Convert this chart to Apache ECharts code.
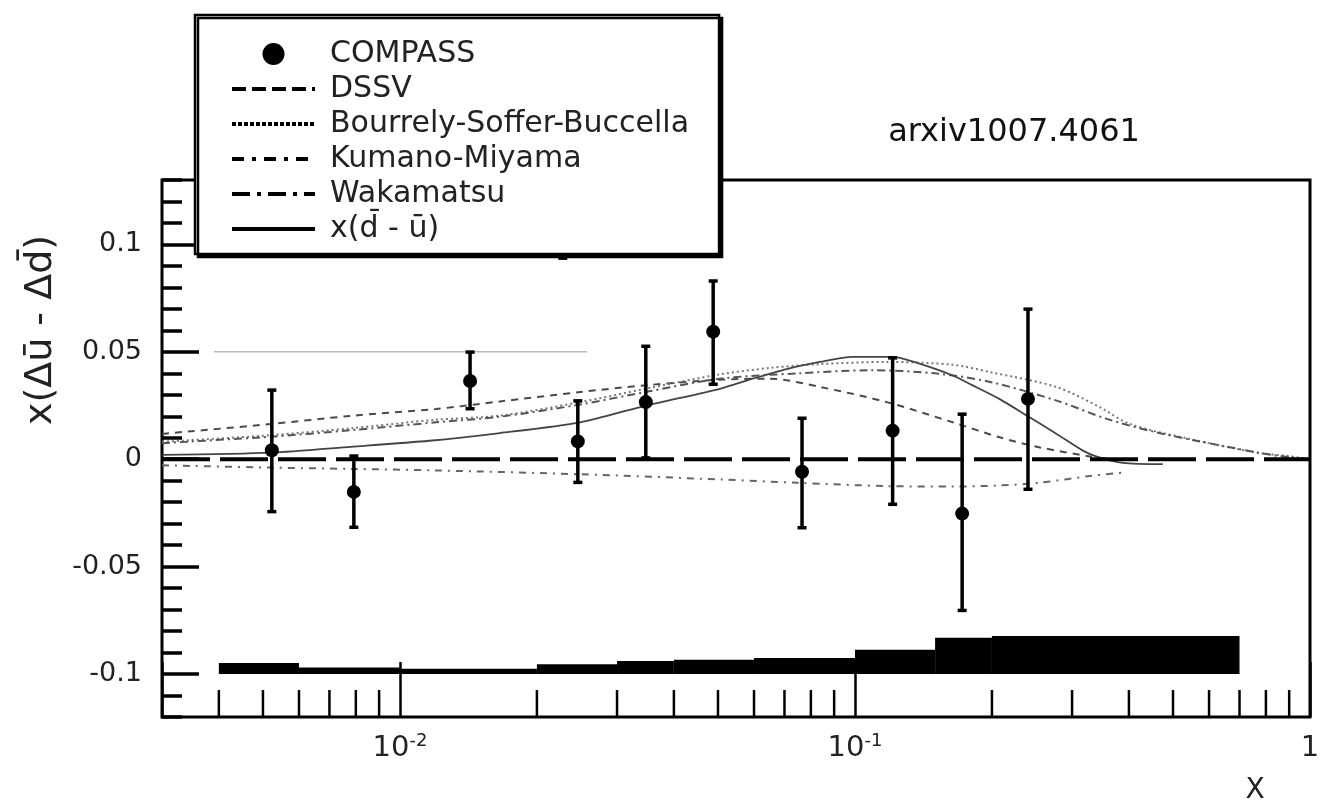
<!DOCTYPE html>
<html>
<head>
<meta charset="utf-8">
<script src="https://cdn.jsdelivr.net/npm/echarts@6/dist/echarts.min.js"></script>
<style>
html, body { margin: 0; padding: 0; background: #fff; }
#main { width: 1326px; height: 810px; }
</style>
</head>
<body>
<div id="main"></div>
<script>
// COMPASS points (x, value, error bar low / high)
var compassX = [0.00523, 0.00792, 0.01426, 0.0246, 0.0347, 0.0488, 0.0765, 0.121, 0.172, 0.240, 0.0228];
var compassY = [0.0042, -0.0152, 0.0364, 0.0083, 0.0266, 0.0594, -0.0058, 0.0133, -0.0253, 0.0281, 0.112];
var compassLow = [-0.0245, -0.0318, 0.0234, -0.0109, 0.0005, 0.0348, -0.0320, -0.0211, -0.0705, -0.0141, 0.0935];
var compassHigh = [0.0323, 0.0016, 0.0500, 0.0273, 0.0527, 0.0831, 0.0192, 0.0473, 0.0211, 0.0700, 0.128];

// model curves
var dssvX = [0.003, 0.0052, 0.0078, 0.012, 0.0166, 0.0249, 0.035, 0.05, 0.065, 0.084, 0.1174, 0.164, 0.208, 0.255, 0.3285, 0.36];
var dssvY = [0.0118, 0.0164, 0.0202, 0.0234, 0.0269, 0.0313, 0.0345, 0.0370, 0.0375, 0.0336, 0.0266, 0.0172, 0.0102, 0.0055, 0.0013, 0.0];

var bsbX = [0.003, 0.0052, 0.0078, 0.012, 0.0166, 0.0249, 0.035, 0.0505, 0.065, 0.084, 0.1174, 0.164, 0.198, 0.2775, 0.3455, 0.402, 0.545, 0.764, 0.904, 1.0];
var bsbY = [0.0081, 0.0112, 0.0144, 0.0184, 0.0203, 0.0266, 0.0330, 0.0395, 0.0425, 0.0443, 0.0453, 0.0440, 0.0406, 0.0336, 0.0242, 0.0164, 0.0094, 0.0031, 0.0014, 0.0];

var kmX = [0.003, 0.0052, 0.0078, 0.012, 0.0249, 0.0505, 0.075, 0.1174, 0.164, 0.208, 0.255, 0.3285, 0.388];
var kmY = [-0.0028, -0.0039, -0.0045, -0.0052, -0.0070, -0.0094, -0.0110, -0.0125, -0.0127, -0.0122, -0.0109, -0.0078, -0.0062];

var wakX = [0.003, 0.0052, 0.0078, 0.012, 0.0166, 0.0249, 0.035, 0.0505, 0.075, 0.1079, 0.15, 0.198, 0.2775, 0.3574, 0.46, 0.644, 0.829, 1.0];
var wakY = [0.0075, 0.0105, 0.0135, 0.0172, 0.0198, 0.0255, 0.0315, 0.0375, 0.0400, 0.0414, 0.0400, 0.0360, 0.0273, 0.0188, 0.0125, 0.0062, 0.0019, 0.0];

var duX = [0.003, 0.0052, 0.0078, 0.0116, 0.0166, 0.0249, 0.0348, 0.0505, 0.0596, 0.0708, 0.0838, 0.099, 0.121, 0.138, 0.164, 0.181, 0.208, 0.24, 0.2775, 0.317, 0.34, 0.388, 0.475];
var duY = [0.0020, 0.0031, 0.0058, 0.0086, 0.0122, 0.0172, 0.0250, 0.0328, 0.0375, 0.0420, 0.0453, 0.0477, 0.0477, 0.0446, 0.0390, 0.0345, 0.0280, 0.0200, 0.0118, 0.0040, 0.0012, -0.0017, -0.0023];

// systematic band
var sysFrom = [0.004, 0.006, 0.01, 0.02, 0.03, 0.04, 0.06, 0.1, 0.15, 0.2];
var sysTo = [0.006, 0.01, 0.02, 0.03, 0.04, 0.06, 0.1, 0.15, 0.2, 0.7];
var sysTop = [-0.0949, -0.0970, -0.0975, -0.0955, -0.0939, -0.0933, -0.0925, -0.0887, -0.0831, -0.0823];
var sysBase = -0.1;

// zero line and the thin line at 0.05
var zeroX = [0.003, 1];
var zeroY = [0, 0];
var thinX = [0.0039, 0.0258];
var thinY = [0.05, 0.05];

// axis ticks
var xMinorTicks = [0.004, 0.005, 0.006, 0.007, 0.008, 0.009, 0.02, 0.03, 0.04, 0.05, 0.06, 0.07, 0.08, 0.09, 0.2, 0.3, 0.4, 0.5, 0.6, 0.7, 0.8, 0.9];
var xMin = 0.003, xMax = 1, yMin = -0.12, yMax = 0.13;

var FONT = 'DejaVu Sans';
var HIDE = { color: 'rgba(0,0,0,0)', borderWidth: 0 };

function zip(xs, ys) {
    return xs.map(function(x, i) { return [x, ys[i]]; });
}

var chart = echarts.init(document.getElementById('main'));

var option = {
    backgroundColor: '#fff',
    animation: false,
    grid: {
        left: 162, right: 16, top: 180, bottom: 93,
        show: true, borderColor: '#000', borderWidth: 3
    },
    legend: {
        orient: 'vertical',
        left: 195, top: 15,
        padding: [24, 30, 10, 35],
        itemGap: 5,
        itemWidth: 83,
        itemHeight: 22,
        z: 10,
        selectedMode: false,
        backgroundColor: '#fff',
        borderColor: '#000',
        borderWidth: 2.5,
        shadowColor: '#000',
        shadowBlur: 0,
        shadowOffsetX: 3,
        shadowOffsetY: 3,
        textStyle: { fontFamily: FONT, fontSize: 30, lineHeight: 30, color: '#222', padding: [0, 0, 0, 10] },
        data: [
            { name: 'COMPASS', icon: 'circle', itemStyle: { color: '#000', opacity: 1 } },
            { name: 'DSSV', itemStyle: HIDE, lineStyle: { color: '#000', width: 4, type: [14, 6] } },
            { name: 'Bourrely-Soffer-Buccella', itemStyle: HIDE, lineStyle: { color: '#000', width: 4, type: [4, 2] } },
            { name: 'Kumano-Miyama', itemStyle: HIDE, lineStyle: { color: '#000', width: 4, type: [12, 8, 4, 8] } },
            { name: 'Wakamatsu', itemStyle: HIDE, lineStyle: { color: '#000', width: 4, type: [18, 7, 4, 7] } },
            { name: 'x(d\u0304 - \u016b)', itemStyle: HIDE, lineStyle: { color: '#000', width: 4, type: 'solid' } }
        ]
    },
    xAxis: [{
        type: 'log',
        logBase: 10,
        min: xMin,
        max: xMax,
        axisLine: { show: false, onZero: false },
        splitLine: { show: false },
        axisTick: { inside: true, length: 55, lineStyle: { color: '#000', width: 2.5 } },
        axisLabel: {
            margin: 15,
            color: '#222',
            formatter: function(v) {
                var p = Math.round(Math.log(v) / Math.LN10);
                if (Math.abs(v - Math.pow(10, p)) > 1e-9) return '';
                if (p === 0) return '{b|1}';
                return '{b|10}{s|' + p + '}';
            },
            rich: {
                b: { fontFamily: FONT, fontSize: 29, color: '#222', lineHeight: 32 },
                s: { fontFamily: FONT, fontSize: 18, color: '#222', verticalAlign: 'top', lineHeight: 18 }
            }
        }
    }],
    yAxis: [{
        type: 'value',
        position: 'left',
        min: yMin,
        max: yMax,
        splitNumber: 5,
        axisLine: { show: false, onZero: false },
        splitLine: { show: false },
        axisTick: { inside: true, length: 37, lineStyle: { color: '#000', width: 3.5 } },
        axisLabel: {
            margin: 20, color: '#222', fontFamily: FONT, fontSize: 27,
            showMinLabel: false, showMaxLabel: false
        }
    }, {
        type: 'value',
        position: 'left',
        offset: 0,
        min: yMin,
        max: yMax,
        interval: 0.01,
        axisLine: { show: false, onZero: false },
        splitLine: { show: false },
        axisLabel: { show: false },
        axisTick: { inside: true, length: 20, lineStyle: { color: '#000', width: 3.5 } }
    }],
    graphic: [
        { type: 'text', x: 1014, y: 133, style: { text: 'arxiv1007.4061', fontFamily: FONT, fontSize: 32, fill: '#111', textAlign: 'center', textVerticalAlign: 'middle' } },
        { type: 'text', x: 41, y: 330, rotation: Math.PI / 2, style: { text: 'x(\u0394\u016b - \u0394d\u0304)', fontFamily: FONT, fontSize: 38, fill: '#222', textAlign: 'center', textVerticalAlign: 'middle' } },
        { type: 'text', x: 1255, y: 791, style: { text: 'X', fontFamily: FONT, fontSize: 28, fill: '#222', textAlign: 'center', textVerticalAlign: 'middle' } }
    ],
    series: [
        {
            // systematic band
            type: 'custom',
            silent: true,
            z: 1,
            data: sysFrom.map(function(x0, i) { return [x0, sysTop[i], sysTo[i]]; }),
            renderItem: function(params, api) {
                var a = api.coord([api.value(0), api.value(1)]);
                var b = api.coord([api.value(2), sysBase]);
                return { type: 'rect', shape: { x: a[0], y: a[1], width: b[0] - a[0], height: b[1] - a[1] }, style: { fill: '#000' } };
            }
        },
        {
            // minor x ticks
            type: 'custom',
            silent: true,
            z: 1,
            data: xMinorTicks.map(function(v) { return [v, yMin]; }),
            renderItem: function(params, api) {
                var p = api.coord([api.value(0), yMin]);
                return { type: 'line', shape: { x1: p[0], y1: p[1], x2: p[0], y2: p[1] - 27 }, style: { stroke: '#000', lineWidth: 2.5 } };
            }
        },
        {
            name: 'thin', type: 'line', symbol: 'none', silent: true,
            data: zip(thinX, thinY),
            lineStyle: { color: '#999', width: 1 }
        },
        {
            name: 'DSSV', type: 'line', symbol: 'none', smooth: 0.3, silent: true,
            data: zip(dssvX, dssvY),
            itemStyle: { color: '#555' },
            lineStyle: { color: '#4a4a4a', width: 2, type: [7, 6] }
        },
        {
            name: 'Bourrely-Soffer-Buccella', type: 'line', symbol: 'none', smooth: 0.3, silent: true,
            data: zip(bsbX, bsbY),
            itemStyle: { color: '#777' },
            lineStyle: { color: '#777', width: 2, type: [2, 3] }
        },
        {
            name: 'Kumano-Miyama', type: 'line', symbol: 'none', smooth: 0.3, silent: true,
            data: zip(kmX, kmY),
            itemStyle: { color: '#666' },
            lineStyle: { color: '#666', width: 2, type: [7, 6, 2, 6] }
        },
        {
            name: 'Wakamatsu', type: 'line', symbol: 'none', smooth: 0.3, silent: true,
            data: zip(wakX, wakY),
            itemStyle: { color: '#555' },
            lineStyle: { color: '#555', width: 2, type: [8, 4, 2, 4] }
        },
        {
            name: 'x(d\u0304 - \u016b)', type: 'line', symbol: 'none', smooth: 0.25, silent: true,
            data: zip(duX, duY),
            itemStyle: { color: '#444' },
            lineStyle: { color: '#444', width: 1.8 }
        },
        {
            name: 'zero', type: 'line', symbol: 'none', silent: true,
            data: zip(zeroX, zeroY),
            lineStyle: { color: '#000', width: 4, type: [48, 10] }
        },
        {
            // error bars
            type: 'custom',
            silent: true,
            clip: true,
            z: 5,
            data: compassX.map(function(x, i) { return [x, compassLow[i], compassHigh[i]]; }),
            renderItem: function(params, api) {
                var lo = api.coord([api.value(0), api.value(1)]);
                var hi = api.coord([api.value(0), api.value(2)]);
                var hw = 4.5;
                return {
                    type: 'group',
                    children: [
                        { type: 'line', shape: { x1: lo[0], y1: lo[1], x2: hi[0], y2: hi[1] }, style: { stroke: '#000', lineWidth: 3.5 } },
                        { type: 'rect', shape: { x: hi[0] - hw, y: hi[1] - 1.5, width: 2 * hw, height: 3.5 }, style: { fill: '#000' } },
                        { type: 'rect', shape: { x: lo[0] - hw, y: lo[1] - 2, width: 2 * hw, height: 3.5 }, style: { fill: '#000' } }
                    ]
                };
            }
        },
        {
            name: 'COMPASS', type: 'scatter', symbol: 'circle', symbolSize: 14, silent: true, z: 6,
            data: zip(compassX, compassY),
            itemStyle: { color: '#000', opacity: 1 }
        }
    ]
};

chart.setOption(option);
</script>
</body>
</html>
